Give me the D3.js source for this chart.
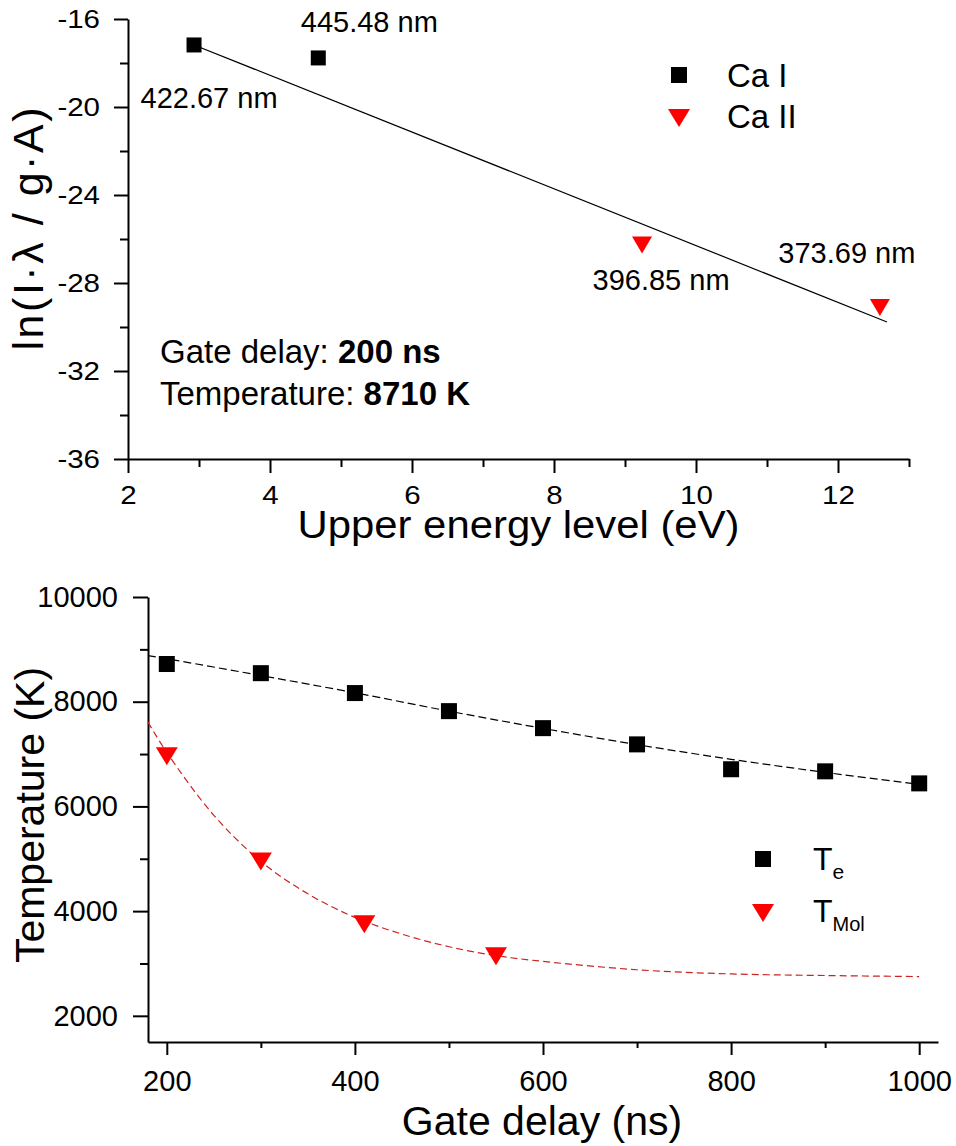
<!DOCTYPE html>
<html>
<head>
<meta charset="utf-8">
<script src="https://cdn.jsdelivr.net/npm/d3@7"></script>
<style>
  body { margin: 0; background: #fff; }
  svg { display: block; font-family: "Liberation Sans", Arial, sans-serif; }
</style>
</head>
<body>
<div id="chart"></div>
<script>
// ---- top panel: Boltzmann plot ----
const caIEnergy = [2.93, 4.68];
const caILn = [-17.18, -17.77];
const caILines = ["422.67 nm", "445.48 nm"];
const caIIEnergy = [9.24, 12.59];
const caIILn = [-26.27, -29.11];
const caIILines = ["396.85 nm", "373.69 nm"];
const fitEnergy = [2.93, 12.69];
const fitLn = [-17.18, -29.77];
const topXTicks = [2, 4, 6, 8, 10, 12];
const topXMinor = [3, 5, 7, 9, 11, 13];
const topYTicks = [-36, -32, -28, -24, -20, -16];
const topYMinor = [-34, -30, -26, -22, -18];

// ---- bottom panel: temperature vs gate delay ----
const teDelay = [200, 300, 400, 500, 600, 700, 800, 900, 1000];
const teTemp = [8720, 8545, 8165, 7820, 7495, 7185, 6710, 6670, 6440];
const molDelay = [200, 300, 410, 550];
const molTemp = [6960, 4950, 3750, 3140];
const teFitDelay = [180, 200, 300, 400, 500, 600, 700, 800, 900, 1000];
const teFitTemp = [8880, 8820, 8500, 8170, 7820, 7490, 7180, 6900, 6650, 6420];
const molFitDelay = [180, 200, 250, 300, 350, 400, 450, 500, 550, 600, 700, 800, 900, 1000];
const molFitTemp = [7610, 7030, 5830, 4950, 4330, 3880, 3560, 3320, 3150, 3040, 2880, 2800, 2770, 2750];
const botXTicks = [200, 400, 600, 800, 1000];
const botXMinor = [300, 500, 700, 900];
const botYTicks = [2000, 4000, 6000, 8000, 10000];
const botYMinor = [3000, 5000, 7000, 9000];

// label offsets (px) for the wavelength annotations
const caIOffsets = [[15, 63], [51, -26]];
const caIIOffsets = [[19, 45], [-33, -44]];

const W = 956, H = 1146;
const RED = "#ff0000";
const TOP_SX = 1.18;   // top panel tick labels look horizontally stretched

const svg = d3.select("#chart")
    .append("svg")
        .attr("width", W)
        .attr("height", H);

svg.append("rect").attr("width", W).attr("height", H).attr("fill", "#fff");

// triangle pointing down, centred on its box
function triPath(w, h) {
    return `M${-w / 2},${-h / 2}L${w / 2},${-h / 2}L0,${h / 2}Z`;
}

// plain labels: hyphen minus, no thousands separator
const plain = d => String(d);

// draw an axis with major + minor ticks
function drawAxis(g, axisFn, scale, majors, minors, majorSize, minorSize, pad, fontSize) {
    g.call(axisFn(scale).tickValues(majors).tickFormat(plain)
            .tickSize(majorSize).tickSizeOuter(0).tickPadding(pad))
        .attr("font-size", fontSize)
        .attr("font-family", "Liberation Sans, Arial, sans-serif");
    g.selectAll(".domain").attr("stroke-width", 2).attr("stroke", "#000");
    g.selectAll(".tick line").attr("stroke-width", 2).attr("stroke", "#000");
    g.selectAll(".tick text").attr("fill", "#000");
    const m = g.append("g").call(axisFn(scale).tickValues(minors).tickSize(minorSize).tickFormat(""));
    m.select(".domain").remove();
    m.selectAll(".tick line").attr("stroke-width", 2).attr("stroke", "#000");
    return g;
}

// ================= top panel =================
const xTop = d3.scaleLinear().domain([2, 13]).range([128, 909]);
const yTop = d3.scaleLinear().domain([-36, -16]).range([459, 19]);

const topG = svg.append("g");

const topXAxis = drawAxis(topG.append("g").attr("transform", `translate(0,${yTop(-36)})`),
    d3.axisBottom, xTop, topXTicks, topXMinor, 14, 8, 13, 25);
topXAxis.selectAll(".tick text").attr("transform", `scale(${TOP_SX},1)`);

const topYAxis = drawAxis(topG.append("g").attr("transform", `translate(${xTop(2)},0)`),
    d3.axisLeft, yTop, topYTicks, topYMinor, 14, 8, 14, 25);
topYAxis.selectAll(".tick text")
    .attr("x", -28 / TOP_SX)
    .attr("transform", `scale(${TOP_SX},1)`);

// fit line
topG.append("line")
    .attr("x1", xTop(fitEnergy[0])).attr("y1", yTop(fitLn[0]))
    .attr("x2", xTop(fitEnergy[1])).attr("y2", yTop(fitLn[1]))
    .attr("stroke", "#000").attr("stroke-width", 1.2);

// Ca I squares
topG.append("g").selectAll("rect")
    .data(caIEnergy)
    .enter()
    .append("rect")
        .attr("x", d => xTop(d) - 7.5)
        .attr("y", (d, i) => yTop(caILn[i]) - 7.5)
        .attr("width", 15).attr("height", 15)
        .attr("fill", "#000");

// Ca II triangles
topG.append("g").selectAll("path")
    .data(caIIEnergy)
    .enter()
    .append("path")
        .attr("d", triPath(20, 17))
        .attr("transform", (d, i) => `translate(${xTop(d)},${yTop(caIILn[i])})`)
        .attr("fill", RED);

// wavelength labels
const labelG = topG.append("g").attr("font-size", 29).attr("text-anchor", "middle");
caILines.forEach((t, i) => {
    labelG.append("text")
        .attr("x", xTop(caIEnergy[i]) + caIOffsets[i][0])
        .attr("y", yTop(caILn[i]) + caIOffsets[i][1])
        .text(t);
});
caIILines.forEach((t, i) => {
    labelG.append("text")
        .attr("x", xTop(caIIEnergy[i]) + caIIOffsets[i][0])
        .attr("y", yTop(caIILn[i]) + caIIOffsets[i][1])
        .text(t);
});

// legend
const legTop = topG.append("g");
legTop.append("rect").attr("x", 671).attr("y", 67).attr("width", 16).attr("height", 16).attr("fill", "#000");
legTop.append("text").attr("x", 727).attr("y", 87).attr("font-size", 33).text("Ca I");
legTop.append("path").attr("d", triPath(22, 18)).attr("transform", "translate(679,118)").attr("fill", RED);
legTop.append("text").attr("x", 727).attr("y", 128).attr("font-size", 33).text("Ca II");

// annotation
const ann = topG.append("text").attr("x", 160).attr("y", 363).attr("font-size", 33);
ann.append("tspan").text("Gate delay: ");
ann.append("tspan").attr("font-weight", "bold").text("200 ns");
const ann2 = topG.append("text").attr("x", 160).attr("y", 405).attr("font-size", 33);
ann2.append("tspan").text("Temperature: ");
ann2.append("tspan").attr("font-weight", "bold").text("8710 K");

// axis titles
topG.append("text")
    .attr("x", (xTop(2) + xTop(13)) / 2)
    .attr("y", 538)
    .attr("text-anchor", "middle")
    .attr("font-size", 39)
    .attr("textLength", 442)
    .attr("lengthAdjust", "spacingAndGlyphs")
    .text("Upper energy level (eV)");

topG.append("text")
    .attr("transform", `translate(43,229) rotate(-90)`)
    .attr("text-anchor", "middle")
    .attr("font-size", 43)
    .attr("textLength", 243)
    .attr("lengthAdjust", "spacing")
    .text("ln(I\u00b7\u03bb / g\u00b7A)");

// ================= bottom panel =================
const xBot = d3.scaleLinear().domain([180, 1020]).range([148, 938]);
const yBot = d3.scaleLinear().domain([1500, 10000]).range([1042, 597]);

const botG = svg.append("g");

drawAxis(botG.append("g").attr("transform", `translate(0,${yBot(1500)})`),
    d3.axisBottom, xBot, botXTicks, botXMinor, 13, 6, 15, 29);
drawAxis(botG.append("g").attr("transform", `translate(${xBot(180)},0)`),
    d3.axisLeft, yBot, botYTicks, botYMinor, 15, 8, 15, 29);

const line = d3.line()
    .x(d => xBot(d[0]))
    .y(d => yBot(d[1]))
    .curve(d3.curveCatmullRom);

// fitted curves (dashed)
botG.append("path")
    .datum(teFitDelay.map((d, i) => [d, teFitTemp[i]]))
    .attr("d", line)
    .attr("fill", "none")
    .attr("stroke", "#000")
    .attr("stroke-width", 1.2)
    .attr("stroke-dasharray", "8,4");

botG.append("path")
    .datum(molFitDelay.map((d, i) => [d, molFitTemp[i]]))
    .attr("d", line)
    .attr("fill", "none")
    .attr("stroke", "#cc2222")
    .attr("stroke-width", 1.2)
    .attr("stroke-dasharray", "7,4");

// T_e squares
botG.append("g").selectAll("rect")
    .data(teDelay)
    .enter()
    .append("rect")
        .attr("x", d => xBot(d) - 8)
        .attr("y", (d, i) => yBot(teTemp[i]) - 8)
        .attr("width", 16).attr("height", 16)
        .attr("fill", "#000");

// T_Mol triangles
botG.append("g").selectAll("path")
    .data(molDelay)
    .enter()
    .append("path")
        .attr("d", triPath(22, 18))
        .attr("transform", (d, i) => `translate(${xBot(d)},${yBot(molTemp[i])})`)
        .attr("fill", RED);

// legend
const legBot = botG.append("g");
legBot.append("rect").attr("x", 755).attr("y", 851).attr("width", 16).attr("height", 16).attr("fill", "#000");
const te = legBot.append("text").attr("x", 813).attr("y", 870).attr("font-size", 32);
te.append("tspan").text("T");
te.append("tspan").attr("font-size", 21).attr("dy", 9).text("e");
legBot.append("path").attr("d", triPath(22, 18)).attr("transform", "translate(763,913)").attr("fill", RED);
const tm = legBot.append("text").attr("x", 813).attr("y", 922).attr("font-size", 32);
tm.append("tspan").text("T");
tm.append("tspan").attr("font-size", 20).attr("dy", 9).text("Mol");

// axis titles
botG.append("text")
    .attr("x", 542)
    .attr("y", 1135)
    .attr("text-anchor", "middle")
    .attr("font-size", 41)
    .text("Gate delay (ns)");

botG.append("text")
    .attr("transform", `translate(44,815) rotate(-90)`)
    .attr("text-anchor", "middle")
    .attr("font-size", 41)
    .text("Temperature (K)");
</script>
</body>
</html>
